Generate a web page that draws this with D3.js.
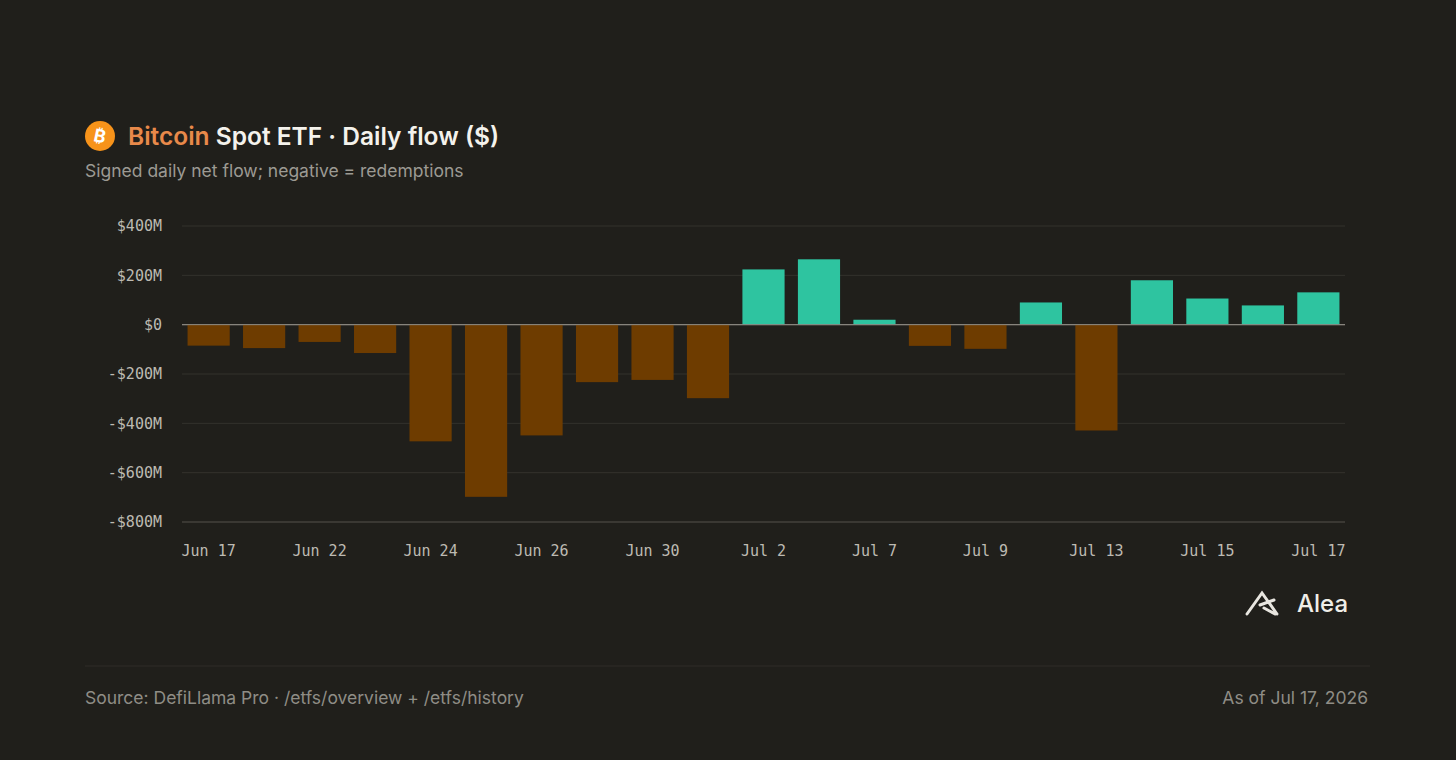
<!DOCTYPE html>
<html>
<head>
<script src="https://d3js.org/d3.v7.min.js"></script>
<style>
  body { margin: 0; background: #201f1b; }
</style>
</head>
<body>
<svg width="1456" height="760" id="mainsvg"></svg>
<script>
const dates = ['Jun 17','Jun 18','Jun 22','Jun 23','Jun 24','Jun 25','Jun 26','Jun 29','Jun 30','Jul 1',
  'Jul 2','Jul 6','Jul 7','Jul 8','Jul 9','Jul 10','Jul 13','Jul 14','Jul 15','Jul 16','Jul 17'];
const flows = [-85, -95, -70, -115, -473, -698, -449, -233, -224, -298,
  224, 265, 20, -86, -98, 90, -429, 180, 106, 78, 131]; // $M
const yTicks = [400, 200, 0, -200, -400, -600, -800];

const svg = d3.select('#mainsvg');
svg.append('rect').attr('width', 1456).attr('height', 760).attr('fill', '#201f1b');

const sans = "Inter, 'Noto Sans', sans-serif";
const mono = "'DejaVu Sans Mono', 'Liberation Mono', monospace";

// header
const icon = svg.append('g').attr('transform', 'translate(100,136)');
icon.append('circle').attr('r', 15).attr('fill', '#f7931a');
icon.append('text').attr('text-anchor', 'middle').attr('dy', '0.36em')
  .attr('font-family', sans).attr('font-weight', 700).attr('font-size', 18)
  .attr('fill', '#fff').attr('transform', 'rotate(12)').text('₿');

const title = svg.append('text').attr('x', 128).attr('y', 145)
  .attr('font-family', sans).attr('font-size', 24.5).attr('font-weight', 600);
title.append('tspan').attr('fill', '#e8894a').text('Bitcoin ');
title.append('tspan').attr('fill', '#f4f2ec').text('Spot ETF · Daily flow ($)');

svg.append('text').attr('x', 85).attr('y', 177).attr('font-family', sans)
  .attr('font-size', 17.5).attr('fill', '#9c9a93').text('Signed daily net flow; negative = redemptions');

// chart
const x = d3.scaleBand().domain(dates).range([182, 1345]).paddingInner(0.24).paddingOuter(0.1);
const y = d3.scaleLinear().domain([-800, 400]).range([522, 226]);

const g = svg.append('g');
g.selectAll('.grid').data(yTicks).enter().append('line')
  .attr('x1', 182).attr('x2', 1345)
  .attr('y1', d => y(d)).attr('y2', d => y(d))
  .attr('stroke', d => d === 0 ? '#8a8880' : (d === -800 ? '#55534d' : '#33322d'))
  .attr('stroke-width', 1);

g.selectAll('.ylab').data(yTicks).enter().append('text')
  .attr('x', 162).attr('y', d => y(d)).attr('dy', '0.35em').attr('text-anchor', 'end')
  .attr('font-family', mono).attr('font-size', 15).attr('fill', '#bdbab2')
  .text(d => (d < 0 ? '-$' : '$') + Math.abs(d) + (d === 0 ? '' : 'M'));

g.selectAll('.bar').data(flows).enter().append('rect')
  .attr('x', (d, i) => x(dates[i]))
  .attr('width', x.bandwidth())
  .attr('y', d => y(Math.max(0, d)))
  .attr('height', d => Math.abs(y(d) - y(0)))
  .attr('fill', d => d >= 0 ? '#2ec4a0' : '#6e3c00');

// redraw zero line on top
g.append('line').attr('x1', 182).attr('x2', 1345).attr('y1', y(0)).attr('y2', y(0))
  .attr('stroke', '#8a8880');

g.selectAll('.xlab').data(dates.filter((d, i) => i % 2 === 0)).enter().append('text')
  .attr('x', d => x(d) + x.bandwidth() / 2).attr('y', 556).attr('text-anchor', 'middle')
  .attr('font-family', mono).attr('font-size', 15).attr('fill', '#bdbab2').text(d => d);

// logo
const logo = svg.append('g').attr('transform', 'translate(1247,592)');
logo.append('path').attr('d', 'M0,22 L15,1 L30,22 M13,13 L27,8 M17,16 L28,22')
  .attr('fill', 'none').attr('stroke', '#e8e6e0').attr('stroke-width', 3).attr('stroke-linecap', 'round');
svg.append('text').attr('x', 1297).attr('y', 612).attr('font-family', sans).attr('font-size', 24)
  .attr('font-weight', 500).attr('fill', '#f0eee8').text('Alea');

// footer
svg.append('line').attr('x1', 85).attr('x2', 1370).attr('y1', 666).attr('y2', 666).attr('stroke', '#2e2d28');
svg.append('text').attr('x', 85).attr('y', 704).attr('font-family', sans).attr('font-size', 17.5)
  .attr('fill', '#8f8d86').text('Source: DefiLlama Pro · /etfs/overview + /etfs/history');
svg.append('text').attr('x', 1368).attr('y', 704).attr('text-anchor', 'end').attr('font-family', sans)
  .attr('font-size', 17.5).attr('fill', '#8f8d86').text('As of Jul 17, 2026');
</script>
</body>
</html>
